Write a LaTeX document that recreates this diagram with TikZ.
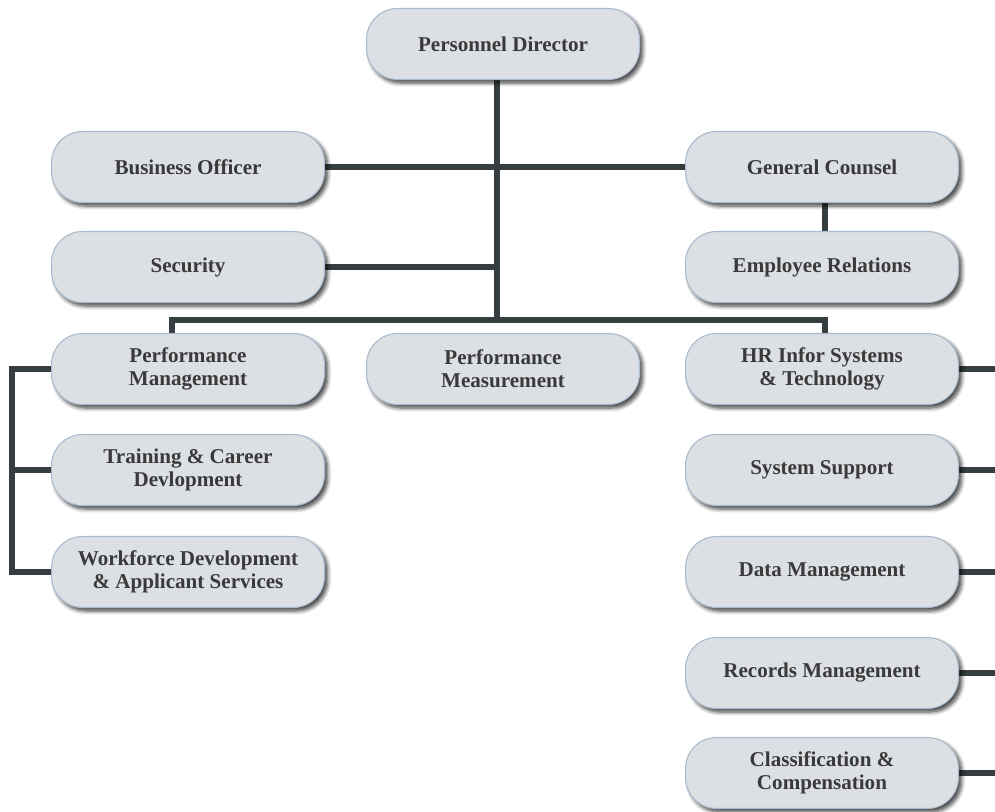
\documentclass[tikz,border=0pt]{standalone}
\usepackage{fontspec}
\setmainfont{Liberation Serif}
\usetikzlibrary{shadows.blur,backgrounds}
\definecolor{boxfill}{HTML}{DCDFE3}
\definecolor{boxrim}{HTML}{A9BACD}
\definecolor{wire}{HTML}{363E41}
\definecolor{ink}{HTML}{3A3A3A}
\tikzset{
  unit/.style={draw=boxrim, line width=0.6pt, fill=boxfill, rounded corners=0.62cm,
    minimum width=5.46cm, minimum height=1.42cm, align=center, inner sep=2pt,
    font=\fontsize{12}{13}\selectfont\bfseries, text=ink,
    blur shadow={shadow xshift=1.8pt, shadow yshift=-2pt, shadow blur steps=6,
      shadow blur radius=2.2pt, shadow opacity=75}},
  wireline/.style={draw=wire, line width=3.3pt}
}
\begin{document}
\begin{tikzpicture}[x=0.02cm, y=-0.02cm]
\useasboundingbox (0,0) rectangle (995,812);
% top level and staff offices
\node[unit] (pd) at (503,44) {Personnel Director};
\node[unit] (bo) at (188,167) {Business Officer};
\node[unit] (gc) at (822,167) {General Counsel};
\node[unit] (sec) at (188,267) {Security};
\node[unit] (er) at (822,267) {Employee Relations};
% divisions
\node[unit] (pm) at (188,369) {Performance\\Management};
\node[unit] (pms) at (503,369) {Performance\\Measurement};
\node[unit] (hr) at (822,369) {HR Infor Systems\\\& Technology};
\node[unit] (tc) at (188,470) {Training \& Career\\Devlopment};
\node[unit] (wd) at (188,572) {Workforce Development\\\& Applicant Services};
\node[unit] (ss) at (822,470) {System Support};
\node[unit] (dm) at (822,572) {Data Management};
\node[unit] (rm) at (822,673) {Records Management};
\node[unit] (cc) at (822,773) {Classification \&\\Compensation};
% helper coordinates for the trunk, the main bar and the side rails
\coordinate (trunk) at (497,0);
\coordinate (bar) at (0,320);
\coordinate (lrail) at (12,0);
\coordinate (rrail) at (997,0);
\begin{scope}[on background layer]
  \draw[wireline] (pd.south -| trunk) -- (trunk |- bar);
  \draw[wireline] (bo.east) -- (gc.west);
  \draw[wireline] (sec.east) -- (sec.east -| trunk);
  \draw[wireline] ([xshift=0.06cm]gc.south) -- ([xshift=0.06cm]er.north);
  \draw[wireline] ([xshift=-0.32cm]pm.north) -- ([xshift=-0.32cm]pm.north |- bar)
                  -- ([xshift=0.06cm]hr.north |- bar) -- ([xshift=0.06cm]hr.north);
  \draw[wireline] (pm.west) -- (pm.west -| lrail) -- (wd.west -| lrail) -- (wd.west);
  \draw[wireline] (tc.west) -- (tc.west -| lrail);
  \foreach \n in {hr,ss,dm,rm,cc}
    \draw[wireline] (\n.east) -- (\n.east -| rrail);
\end{scope}
\end{tikzpicture}
\end{document}
